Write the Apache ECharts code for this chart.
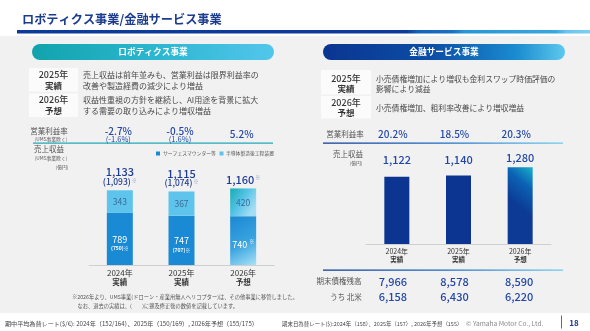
<!DOCTYPE html>
<html><head><meta charset="utf-8">
<script src="https://cdn.jsdelivr.net/npm/echarts@6/dist/echarts.min.js"></script>
<style>html,body{margin:0;padding:0;background:#fff}#c{width:590px;height:331px}</style>
</head><body><div id="c"></div>
<script>
// ---- data ----
const years = ['2024年', '2025年', '2026年'];
const status = ['実績', '実績', '予想'];
const robSurface = [789, 747, 740];          // サーフェスマウンター等
const robSemi = [343, 367, 420];             // 半導体製造後工程装置
const robTotal = [1133, 1115, 1160];
const robTotalExUMS = ['(1,093)', '(1,074)', ''];
const robSurfaceExUMS = ['(750)', '(707)', ''];
const robMargin = ['-2.7%', '-0.5%', '5.2%'];
const robMarginExUMS = ['(-1.6%)', '(1.6%)', ''];
const finRevenue = [1122, 1140, 1280];
const finMargin = ['20.2%', '18.5%', '20.3%'];
const finReceivables = [7966, 8578, 8590];
const finNorthAmerica = [6158, 6430, 6220];

const F = '"Noto Sans CJK JP","Noto Sans",sans-serif';
const BLUE = '#2347a8';
const fmt = v => v.toLocaleString('en-US');

function T(text, x, y, size, color, o) {
  o = o || {};
  return {
    type: 'text', x: x, y: y, z: 100, silent: true,
    style: {
      text: text, fontSize: size, fill: color, fontFamily: F,
      fontWeight: o.w || 'normal', textAlign: o.a || 'left', textVerticalAlign: 'middle'
    }
  };
}
function R(x, y, w, h, fill, r, z) {
  return { type: 'rect', z: z == null ? 1 : z, silent: true, shape: { x: x, y: y, width: w, height: h, r: r || 0 }, style: { fill: fill } };
}
function lg(x, y, x2, y2, stops) {
  return { type: 'linear', x: x, y: y, x2: x2, y2: y2, colorStops: stops.map(s => ({ offset: s[0], color: s[1] })) };
}

const chart = echarts.init(document.getElementById('c'), null, { renderer: 'canvas' });

const gBottom2026 = lg(0, 0, 1, 1, [[0, '#1a88d2'], [0.55, '#3aa4e0'], [1, '#a8e2f6']]);
const gTop2026 = lg(0, 0, 1, 0.6, [[0, '#16acb0'], [0.5, '#52c2e6'], [1, '#a4def4']]);
const gFin2026 = lg(0, 0.4, 1, 0, [[0, '#0c3a94'], [0.55, '#0b62b4'], [1, '#1ab2cc']]);

const finGap = [11, 10, 4];

const option = {
  animation: false,
  grid: [
    { left: 89, width: 185, top: 166, height: 99 },
    { left: 366, width: 185, top: 154, height: 90 }
  ],
  xAxis: [
    {
      gridIndex: 0, type: 'category', data: years,
      axisLine: { lineStyle: { color: '#cfcfcf', width: 1 } }, axisTick: { show: false },
      axisLabel: {
        interval: 0, margin: 3, formatter: (v, i) => `{a|${v}}\n{b|${status[i]}}`,
        rich: { a: { fontSize: 8, lineHeight: 9.5, color: '#333', fontFamily: F }, b: { fontSize: 7.5, lineHeight: 9.5, color: '#333', fontWeight: 'bold', fontFamily: F } }
      }
    },
    {
      gridIndex: 1, type: 'category', data: years,
      axisLine: { lineStyle: { color: '#cfcfcf', width: 1 } }, axisTick: { show: false },
      axisLabel: {
        interval: 0, margin: 4, formatter: (v, i) => `{a|${v}}\n{b|${status[i]}}`,
        rich: { a: { fontSize: 7, lineHeight: 7.5, color: '#333', fontFamily: F }, b: { fontSize: 6.5, lineHeight: 7.5, color: '#333', fontWeight: 'bold', fontFamily: F } }
      }
    }
  ],
  yAxis: [
    { gridIndex: 0, type: 'value', min: 0, max: 1500, show: false },
    { gridIndex: 1, type: 'value', min: 0, max: 1500, show: false }
  ],
  series: [
    {
      name: 'サーフェスマウンター等', type: 'bar', stack: 'rob', xAxisIndex: 0, yAxisIndex: 0,
      barWidth: 26, barGap: '-100%',
      data: robSurface.map((v, i) => i === 2 ? { value: v, itemStyle: { color: gBottom2026 } } : v),
      itemStyle: { color: '#1b8ad4' },
      label: {
        show: true, position: 'inside', offset: [0, 4],
        formatter: p => robSurfaceExUMS[p.dataIndex]
          ? `{v|${p.value}}\n{s|${robSurfaceExUMS[p.dataIndex]}※}`
          : `{v|${p.value}}{k|※}`,
        rich: {
          v: { fontSize: 9, lineHeight: 11, color: '#fff', fontFamily: F },
          s: { fontSize: 5, lineHeight: 7, color: '#fff', fontFamily: F, fontWeight: 'bold' },
          k: { fontSize: 5, lineHeight: 11, color: '#fff', fontFamily: F, verticalAlign: 'top', padding: [0, 0, 6, 2] }
        }
      }
    },
    {
      name: '半導体製造後工程装置', type: 'bar', stack: 'rob', xAxisIndex: 0, yAxisIndex: 0,
      barWidth: 26, barGap: '-100%',
      data: robSemi.map((v, i) => i === 2 ? { value: v, itemStyle: { color: gTop2026 } } : v),
      itemStyle: { color: '#5ec4ec' },
      label: { show: true, position: 'inside', fontSize: 8.5, color: '#3a6b98', fontFamily: F }
    },
    {
      name: 'total', type: 'bar', xAxisIndex: 0, yAxisIndex: 0,
      barWidth: 26, barGap: '-100%', silent: true,
      data: robTotal, itemStyle: { color: 'rgba(0,0,0,0)' }, z: 1,
      label: {
        show: true, position: 'top', distance: 4,
        formatter: p => robTotalExUMS[p.dataIndex]
          ? `{t|${fmt(p.value)}}\n{p|${robTotalExUMS[p.dataIndex]}}{k|※}`
          : `{t|${fmt(p.value)}}{k|※}`,
        rich: {
          t: { fontSize: 11, lineHeight: 10, color: '#1f3c94', fontFamily: F, fontWeight: 500 },
          p: { fontSize: 8.5, lineHeight: 9, color: '#1f3c94', fontFamily: F, fontWeight: 500 },
          k: { fontSize: 5, lineHeight: 9, color: '#8a9cc4', fontFamily: F, verticalAlign: 'top', padding: [0, 0, 5, 1] }
        }
      }
    },
    {
      name: '売上収益', type: 'bar', xAxisIndex: 1, yAxisIndex: 1, barWidth: 25,
      data: finRevenue.map((v, i) => ({
        value: v,
        itemStyle: i === 2 ? { color: gFin2026 } : undefined,
        label: { distance: finGap[i] }
      })),
      itemStyle: { color: '#0b3591' },
      label: {
        show: true, position: 'top', formatter: p => fmt(p.value),
        fontSize: 11, lineHeight: 11, color: BLUE, fontFamily: F, fontWeight: 500
      }
    }
  ],
  graphic: []
};
chart.setOption(option);

// category centres from the axes
const cx0 = years.map((y, i) => chart.convertToPixel({ xAxisIndex: 0 }, i));
const cx1 = years.map((y, i) => chart.convertToPixel({ xAxisIndex: 1 }, i));

const g = [];
// backgrounds
g.push(R(0, 36, 590, 277, '#f1f1f1', 0, 0));
g.push(R(17, 30, 573, 3.5, lg(0, 0, 1, 0, [[0, '#0b3a9a'], [0.68, '#0b3a9a'], [0.7, '#1662ba'], [0.76, '#1a70c4'], [0.78, '#2896d6'], [0.94, '#3aa6de'], [0.96, '#6ac6ee'], [1, '#7ccff0']]), 0, 1));
g.push(T('ロボティクス事業/金融サービス事業', 22, 19.5, 12.2, '#1b3c8f', { w: 'bold' }));

// pills
g.push(R(32, 44, 242, 16, lg(0, 0, 1, 0, [[0, '#12a3ac'], [0.5, '#2cb6cf'], [1, '#52c6ec']]), 8, 1));
g.push(T('ロボティクス事業', 153, 52, 8.7, '#fff', { a: 'center', w: 'bold' }));
g.push(R(323, 44, 242, 16, lg(0, 0, 1, 0, [[0, '#0a3590'], [0.45, '#0c4ea6'], [0.8, '#1a8cd0'], [1, '#5ec8ee']]), 8, 1));
g.push(T('金融サービス事業', 444, 52, 8.7, '#fff', { a: 'center', w: 'bold' }));

// left boxes
g.push(R(29, 68, 49, 23.5, '#fbfbfb', 0, 1));
g.push(R(29, 93.5, 49, 23.5, '#fbfbfb', 0, 1));
g.push(T('2025年', 53.5, 75, 9, '#333', { a: 'center', w: 500 }));
g.push(T('実績', 53.5, 85.5, 8.5, '#333', { a: 'center', w: 'bold' }));
g.push(T('2026年', 53.5, 100, 9, '#333', { a: 'center', w: 500 }));
g.push(T('予想', 53.5, 110.5, 8.5, '#333', { a: 'center', w: 'bold' }));
g.push(T('売上収益は前年並みも、営業利益は限界利益率の', 83, 75, 8, '#4a4a4a'));
g.push(T('改善や製造経費の減少により増益', 83, 85.5, 8, '#4a4a4a'));
g.push(T('収益性重視の方針を継続し、AI用途を背景に拡大', 83, 100, 8, '#4a4a4a'));
g.push(T('する需要の取り込みにより増収増益', 83, 110.5, 8, '#4a4a4a'));

// right boxes
g.push(R(321, 70, 50, 24.5, '#fbfbfb', 0, 1));
g.push(R(321, 96, 50, 22.5, '#fbfbfb', 0, 1));
g.push(T('2025年', 346, 79, 9, '#333', { a: 'center', w: 500 }));
g.push(T('実績', 346, 88.5, 8.5, '#333', { a: 'center', w: 'bold' }));
g.push(T('2026年', 346, 102.5, 9, '#333', { a: 'center', w: 500 }));
g.push(T('予想', 346, 112.5, 8.5, '#333', { a: 'center', w: 'bold' }));
g.push(T('小売債権増加により増収も金利スワップ時価評価の', 376, 79, 7.8, '#4a4a4a'));
g.push(T('影響により減益', 376, 89, 7.8, '#4a4a4a'));
g.push(T('小売債権増加、粗利率改善により増収増益', 376, 108, 7.8, '#4a4a4a'));

// left margin row
g.push(T('営業利益率', 49, 131, 7.5, '#555', { a: 'center' }));
g.push(T('(UMS事業除く)', 51, 139, 4.8, '#555', { a: 'center' }));
robMargin.forEach((m, i) => {
  const y = robMarginExUMS[i] ? 131 : 134;
  g.push(T(m, cx0[i] - 1.5, y, 10, BLUE, { a: 'center', w: 500 }));
  if (robMarginExUMS[i]) g.push(T(robMarginExUMS[i], cx0[i] - 1.5, 139.5, 7.5, BLUE, { a: 'center' }));
});
g.push(R(33, 142.5, 240, 1.3, '#1fa8b8', 0, 2));
g.push(T('売上収益', 49, 149.5, 7.5, '#555', { a: 'center' }));
g.push(T('(UMS事業除く)', 51, 158, 4.8, '#555', { a: 'center' }));
g.push(T('(億円)', 62, 167, 4.8, '#555', { a: 'center' }));
// legend
g.push(R(156, 151.5, 4, 4, '#1b8ad4', 0, 2));
g.push(T('サーフェスマウンター等', 163, 153.5, 4.8, '#555'));
g.push(R(219.5, 151.5, 4, 4, '#5ec4ec', 0, 2));
g.push(T('半導体製造後工程装置', 226, 153.5, 4.8, '#555'));

// notes
g.push(T('※2026年より、UMS事業(ドローン・産業用無人ヘリコプター)は、その他事業に移管しました。', 72, 297, 5.25, '#555'));
g.push(T('なお、過去の実績は、(　　)に遡及修正後の数値を記載しています。', 77.5, 305.5, 5.25, '#555'));

// right margin row
g.push(T('営業利益率', 345, 134, 7.5, '#555', { a: 'center' }));
finMargin.forEach((m, i) => g.push(T(m, cx1[i] - 4, 134, 10, BLUE, { a: 'center', w: 500 })));
g.push(R(323, 142.5, 240, 1.3, lg(0, 0, 1, 0, [[0, '#0b3591'], [0.5, '#1a6cc6'], [1, '#6ccaf0']]), 0, 2));
g.push(T('売上収益', 348, 154, 7.5, '#555', { a: 'center' }));
g.push(T('(億円)', 356, 163, 4.8, '#555', { a: 'center' }));

// receivables
g.push(R(323, 269.5, 240, 1.3, lg(0, 0, 1, 0, [[0, '#0b3591'], [0.5, '#1a6cc6'], [1, '#6ccaf0']]), 0, 2));
g.push(T('期末債権残高', 339, 281.5, 7.5, '#555', { a: 'center' }));
g.push(T('うち 北米', 346, 297, 7.5, '#555', { a: 'center' }));
finReceivables.forEach((v, i) => g.push(T(fmt(v), cx1[i] - 4 + (i === 2 ? 3 : 0), 281.5, 11, BLUE, { a: 'center', w: 500 })));
finNorthAmerica.forEach((v, i) => g.push(T(fmt(v), cx1[i] - 4 + (i === 2 ? 3 : 0), 297, 11, BLUE, { a: 'center', w: 500 })));

// footer
g.push(T('期中平均為替レート($/€): 2024年（152/164）、2025年（150/169）, 2026年予想（155/175）', 5, 323.5, 6.1, '#444'));
g.push(T('期末日為替レート($):2024年（158）、2025年（157）, 2026年予想（155）', 282, 323.5, 5.45, '#444'));
g.push(T('© Yamaha Motor Co., Ltd.', 466, 323.5, 6.6, '#888'));
g.push(R(561, 315.5, 0.8, 13, '#2347a8', 0, 2));
g.push(T('18', 574, 323, 8, '#1f3c94', { a: 'center', w: 'bold' }));

chart.setOption({ graphic: { elements: g } });
</script></body></html>
